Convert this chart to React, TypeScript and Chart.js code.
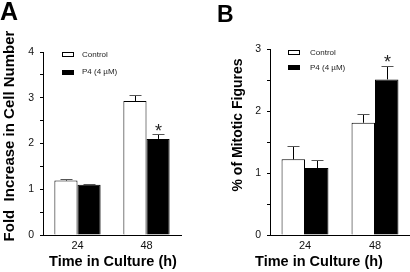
import React, { useEffect, useRef } from 'react';
import { Chart, registerables } from 'chart.js';

Chart.register(...registerables);

// ---------- data ----------
const categories = ['24', '48'];
const seriesLabels = ['Control', 'P4 (4 µM)'];

const cellControl = [1.19, 2.93];
const cellControlErr = [0.04, 0.14];
const cellP4 = [1.1, 2.1];
const cellP4Err = [0.02, 0.11];
const cellP4Stars = [false, true];

const mitoticControl = [1.22, 1.81];
const mitoticControlErr = [0.22, 0.14];
const mitoticP4 = [1.08, 2.51];
const mitoticP4Err = [0.13, 0.22];
const mitoticP4Stars = [false, true];

const cellYMax = 4;
const mitoticYMax = 3;
const yStep = 0.5;

const FONT = 'Arial, "Liberation Sans", Helvetica, sans-serif';

const decorPlugin = {
  id: 'decor',
  afterDatasetsDraw(chart: any, _args: any, o: any) {
    const ctx = chart.ctx;
    const yScale = chart.scales.y;
    ctx.save();
    chart.data.datasets.forEach((ds: any, di: number) => {
      const meta = chart.getDatasetMeta(di);
      meta.data.forEach((el: any, j: number) => {
        const v = ds.data[j];
        const e = ds.errors ? ds.errors[j] : 0;
        const x = Math.round(el.x) + 0.5;
        const yTop = Math.round(yScale.getPixelForValue(v + e)) + 0.5;
        const yBar = el.y;
        ctx.strokeStyle = '#000';
        ctx.lineWidth = 1;
        ctx.beginPath();
        ctx.moveTo(x, yBar);
        ctx.lineTo(x, yTop);
        ctx.stroke();
        ctx.strokeStyle = '#555';
        ctx.beginPath();
        ctx.moveTo(x - 6, yTop);
        ctx.lineTo(x + 6, yTop);
        ctx.stroke();
        if (ds.stars && ds.stars[j]) {
          ctx.font = `${o.starSize}px ${FONT}`;
          ctx.fillStyle = '#222';
          ctx.textAlign = 'center';
          ctx.textBaseline = 'alphabetic';
          const m = ctx.measureText('*');
          const a = m.actualBoundingBoxAscent;
          const d = m.actualBoundingBoxDescent;
          const center = yTop - o.starGap;
          ctx.fillText('*', x, center + (a - d) / 2);
        }
      });
    });
    ctx.restore();
  },
  afterDraw(chart: any, _args: any, o: any) {
    const ctx = chart.ctx;
    ctx.save();
    ctx.fillStyle = '#000';
    ctx.font = `bold ${o.letterSize}px ${FONT}`;
    ctx.textAlign = 'left';
    ctx.textBaseline = 'alphabetic';
    ctx.fillText(o.letter, o.letterX, o.letterY);
    ctx.save();
    ctx.translate(o.yTitleX, o.yTitleY);
    ctx.rotate(-Math.PI / 2);
    ctx.font = `bold ${o.yTitleSize}px ${FONT}`;
    ctx.textAlign = 'center';
    ctx.fillText(o.yTitle, 0, 0);
    ctx.restore();
    ctx.font = `bold ${o.xTitleSize}px ${FONT}`;
    ctx.textAlign = 'center';
    ctx.fillText(o.xTitle, o.xTitleX, o.xTitleY);
    chart.data.datasets.forEach((ds: any, i: number) => {
      const cy = o.legendY + i * o.legendDy;
      ctx.fillStyle = ds.backgroundColor;
      ctx.fillRect(o.legendX, Math.round(cy - 2.5), 12, 5);
      ctx.strokeStyle = '#000';
      ctx.lineWidth = 1;
      ctx.strokeRect(o.legendX + 0.5, Math.round(cy - 2.5) + 0.5, 11, 4);
      ctx.fillStyle = '#222';
      ctx.font = `${o.legendSize}px ${FONT}`;
      ctx.textAlign = 'left';
      ctx.textBaseline = 'middle';
      ctx.fillText(ds.label, o.legendTextX, cy);
      ctx.textBaseline = 'alphabetic';
    });
    ctx.restore();
  },
};

type PanelProps = {
  left: number;
  control: number[];
  controlErr: number[];
  p4: number[];
  p4Err: number[];
  p4Stars: boolean[];
  yMax: number;
  yWidth: number;
  padTop: number;
  padRight: number;
  decor: any;
};

function Panel(props: PanelProps) {
  const ref = useRef<HTMLCanvasElement | null>(null);
  useEffect(() => {
    if (!ref.current) return;
    const chart = new Chart(ref.current, {
      type: 'bar',
      data: {
        labels: categories,
        datasets: [
          {
            label: seriesLabels[0],
            data: props.control,
            errors: props.controlErr,
            backgroundColor: '#ffffff',
            borderColor: '#000000',
            borderWidth: 1,
            categoryPercentage: 0.67,
            barPercentage: 1.0,
          } as any,
          {
            label: seriesLabels[1],
            data: props.p4,
            errors: props.p4Err,
            stars: props.p4Stars,
            backgroundColor: '#000000',
            borderColor: '#000000',
            borderWidth: 1,
            categoryPercentage: 0.67,
            barPercentage: 1.0,
          } as any,
        ],
      },
      options: {
        responsive: false,
        animation: false,
        devicePixelRatio: 1,
        layout: { padding: { left: 0, right: props.padRight, top: props.padTop, bottom: 0 } },
        plugins: {
          legend: { display: false },
          tooltip: { enabled: false },
          decor: props.decor,
        } as any,
        scales: {
          x: {
            offset: true,
            grid: { display: false, drawTicks: false },
            border: { display: true, color: '#000', width: 1 },
            ticks: { color: '#111', padding: 4, font: { family: FONT, size: 11 } },
            afterFit: (s: any) => { s.height = 37; },
          },
          y: {
            min: 0,
            max: props.yMax,
            grid: { display: true, drawOnChartArea: false, drawTicks: true, tickLength: 3, color: '#000' },
            border: { display: true, color: '#000', width: 1 },
            ticks: {
              stepSize: yStep,
              autoSkip: false,
              color: '#111',
              padding: 6,
              font: { family: FONT, size: 10.5 },
              callback: (v: any) => (Number.isInteger(Number(v)) ? String(v) : ''),
            },
            afterFit: (s: any) => { s.width = props.yWidth; },
          },
        },
      } as any,
      plugins: [decorPlugin as any],
    });
    return () => chart.destroy();
  }, []);
  return (
    <canvas
      ref={ref}
      width={205}
      height={272}
      style={{ position: 'absolute', left: props.left, top: 0, width: 205, height: 272 }}
    />
  );
}

export default function App() {
  return (
    <div style={{ position: 'absolute', left: 0, top: 0, width: 410, height: 272, background: '#fff', overflow: 'hidden' }}>
      <Panel
        left={0}
        control={cellControl}
        controlErr={cellControlErr}
        p4={cellP4}
        p4Err={cellP4Err}
        p4Stars={cellP4Stars}
        yMax={cellYMax}
        yWidth={43}
        padTop={52}
        padRight={24}
        decor={{
          letter: 'A', letterX: 0, letterY: 20, letterSize: 25,
          yTitle: 'Fold  Increase in Cell Number', yTitleX: 14, yTitleY: 136, yTitleSize: 15,
          xTitle: 'Time in Culture (h)', xTitleX: 113, xTitleY: 266, xTitleSize: 14.5,
          legendX: 62, legendY: 54.5, legendDy: 17.5, legendTextX: 82, legendSize: 8,
          starSize: 18, starGap: 7,
        }}
      />
      <Panel
        left={205}
        control={mitoticControl}
        controlErr={mitoticControlErr}
        p4={mitoticP4}
        p4Err={mitoticP4Err}
        p4Stars={mitoticP4Stars}
        yMax={mitoticYMax}
        yWidth={65}
        padTop={49}
        padRight={0}
        decor={{
          letter: 'B', letterX: 12, letterY: 22, letterSize: 23,
          yTitle: '% of Mitotic Figures', yTitleX: 37, yTitleY: 125, yTitleSize: 14,
          xTitle: 'Time in Culture (h)', xTitleX: 114, xTitleY: 266, xTitleSize: 14.5,
          legendX: 83, legendY: 52.5, legendDy: 15.2, legendTextX: 105, legendSize: 8,
          starSize: 18, starGap: 8,
        }}
      />
    </div>
  );
}
